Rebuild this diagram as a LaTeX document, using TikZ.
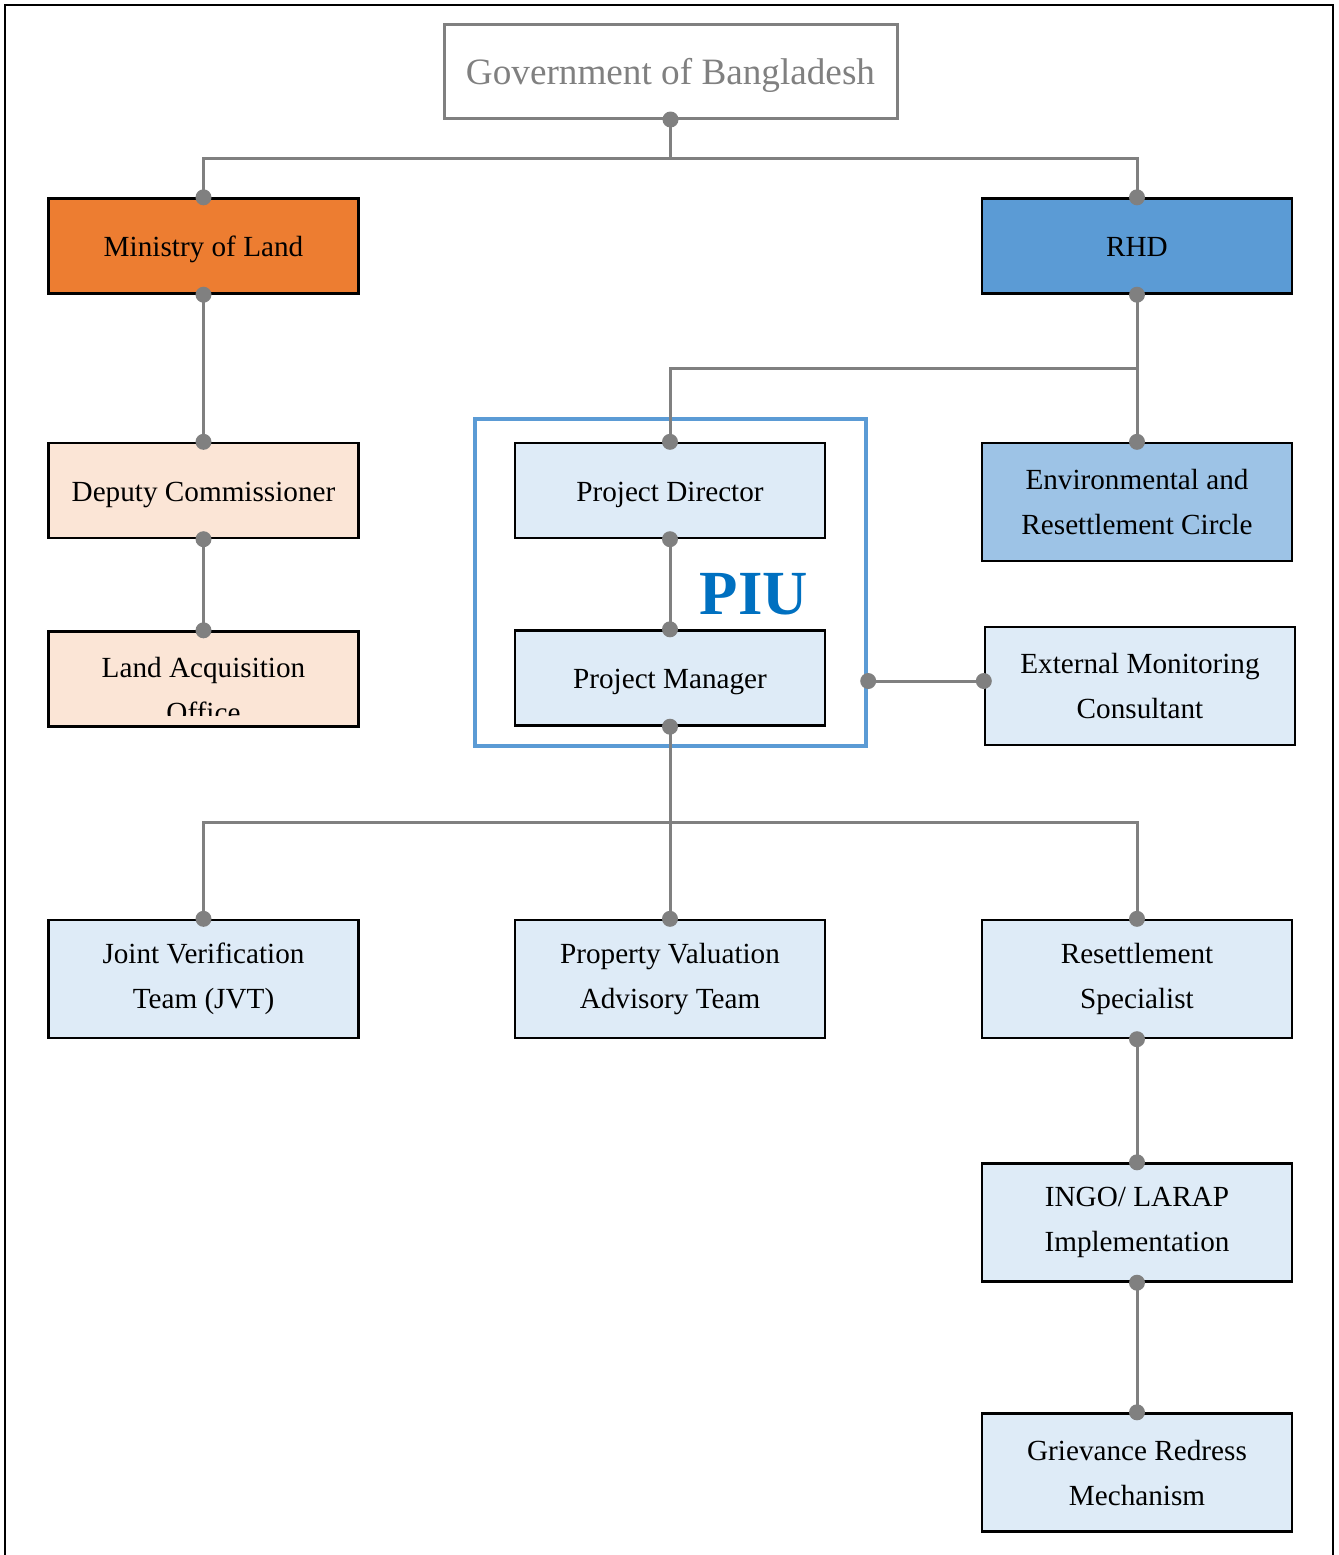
\documentclass[tikz,border=0pt]{standalone}
\usepackage{fontspec}
\setmainfont{Liberation Serif}
\definecolor{conngray}{HTML}{808080}
\definecolor{orangefill}{HTML}{ED7D31}
\definecolor{rhdblue}{HTML}{5B9BD5}
\definecolor{peach}{HTML}{FBE5D6}
\definecolor{lightblue}{HTML}{DEEBF7}
\definecolor{midblue}{HTML}{9DC3E6}
\definecolor{piublue}{HTML}{0070C0}
\definecolor{piuframe}{HTML}{5B9BD5}
\tikzset{
  orgbox/.style={draw=black, line width=1.2pt, minimum width=155pt, align=center, inner sep=0pt,
    font=\fontsize{14.6}{22.5}\selectfont, text=black},
  shortbox/.style={orgbox, minimum height=47.5pt, text height=14pt, text depth=3.3pt},
  tallbox/.style={orgbox, minimum height=59pt},
  conn/.style={draw=conngray, line width=1.5pt},
  dot/.style={fill=conngray},
}
\begin{document}
\begin{tikzpicture}[x=0.5pt, y=-0.5pt]
\useasboundingbox (0,0) rectangle (1339,1555);
% outer frame
\draw[line width=1.1pt, black] (5,1560) -- (5,5) -- (1333,5) -- (1333,1560);

% helper coordinates
\coordinate (h1) at (0,158);
\coordinate (h2) at (0,368);
\coordinate (h3) at (0,681);
\coordinate (h4) at (0,822);

% boxes
\node[draw=conngray, line width=1.5pt, minimum width=226.5pt, minimum height=47pt, inner sep=0pt,
  text height=17pt, text depth=3.5pt,
  font=\fontsize{18.6}{22}\selectfont, text=conngray] (gov) at (670.5,71) {Government of Bangladesh};
\node[shortbox, fill=orangefill] (mol) at (203.5,246) {Ministry of Land};
\node[shortbox, fill=rhdblue] (rhd) at (1137,246) {RHD};
\node[shortbox, fill=peach] (dc) at (203.5,490.5) {Deputy Commissioner};
\node[orgbox, minimum height=47.5pt, fill=peach] (lao) at (203.5,679) {};
\begin{scope}
  \clip (50,633) rectangle (357,715);
  \node[align=center, font=\fontsize{14.6}{22.5}\selectfont] (laotext) at (203.5,689.5) {Land Acquisition\\Office};
\end{scope}

\node[draw=piuframe, line width=2.2pt, minimum width=195.5pt, minimum height=163.5pt] (piu) at (670.5,582.5) {};
\node[shortbox, fill=lightblue] (pd) at (670,490.5) {Project Director};
\node[shortbox, fill=lightblue] (pm) at (670,678) {Project Manager};
\node[font=\bfseries\fontsize{31.4}{32}\selectfont, text=piublue] (piulabel) at (754,594) {PIU};

\node[tallbox, fill=midblue] (env) at (1137,502) {Environmental and\\Resettlement Circle};
\node[tallbox, fill=lightblue] (emc) at (1140,686) {External Monitoring\\Consultant};
\node[tallbox, fill=lightblue] (jvt) at (203.5,979) {Joint Verification\\Team (JVT)};
\node[tallbox, fill=lightblue] (pvat) at (670,979) {Property Valuation\\Advisory Team};
\node[tallbox, fill=lightblue] (rs) at (1137,979) {Resettlement\\Specialist};
\node[tallbox, fill=lightblue] (ingo) at (1137,1222.5) {INGO/ LARAP\\Implementation};
\node[tallbox, fill=lightblue] (grm) at (1137,1472.5) {Grievance Redress\\Mechanism};

% connectors
\draw[conn] (gov.south) -- (gov.south |- h1) -| (mol.north);
\draw[conn] (gov.south |- h1) -| (rhd.north);
\draw[conn] (mol.south) -- (dc.north);
\draw[conn] (dc.south) -- (lao.north);
\draw[conn] (rhd.south) -- (env.north);
\draw[conn] (rhd.south |- h2) -| (pd.north);
\draw[conn] (pd.south) -- (pm.north);
\draw[conn] (piu.east |- h3) -- (emc.west |- h3);
\draw[conn] (pm.south) -- (pvat.north);
\draw[conn] (pm.south |- h4) -| (jvt.north);
\draw[conn] (pm.south |- h4) -| (rs.north);
\draw[conn] (rs.south) -- (ingo.north);
\draw[conn] (ingo.south) -- (grm.north);

% dots
\foreach \p in {gov.south, mol.north, rhd.north, mol.south, dc.north, dc.south, lao.north,
  rhd.south, env.north, pd.north, pd.south, pm.north, pm.south, jvt.north, pvat.north,
  rs.north, rs.south, ingo.north, ingo.south, grm.north}
  \fill[dot] (\p) circle (4pt);
\fill[dot] (piu.east |- h3) circle (4pt);
\fill[dot] (emc.west |- h3) circle (4pt);
\end{tikzpicture}
\end{document}
